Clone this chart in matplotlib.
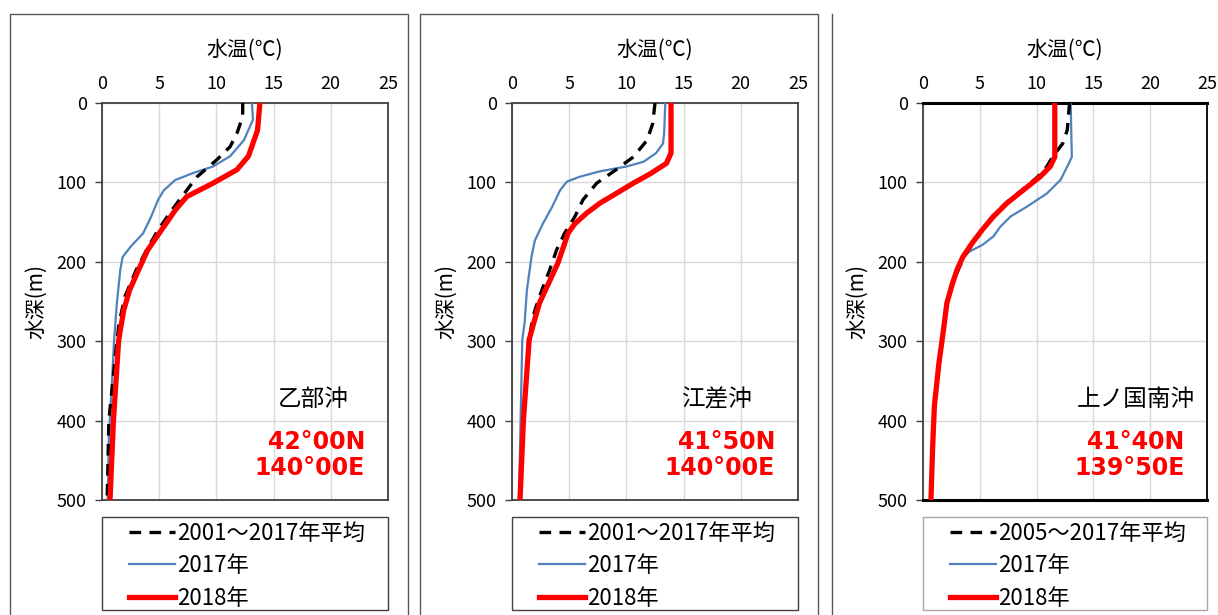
import matplotlib
matplotlib.use('Agg')
import matplotlib.pyplot as plt
from matplotlib.patches import Rectangle
from matplotlib.lines import Line2D

plt.rcParams['font.family'] = ['Noto Sans CJK JP', 'DejaVu Sans']

# 乙部沖
otobe_avg_depth = [0, 17, 38, 55, 72, 93, 110, 135, 160, 185, 210, 244, 277, 300, 400, 500]
otobe_avg_temp = [12.3, 12.3, 11.8, 11.2, 10.0, 8.3, 7.4, 6.1, 4.9, 3.9, 3.0, 2.0, 1.5, 1.3, 0.6, 0.45]
otobe_2017_depth = [0, 21, 47, 67, 80, 88, 97, 110, 122, 143, 164, 181, 194, 210, 252, 300, 357, 420, 500]
otobe_2017_temp = [13.1, 13.2, 12.4, 11.2, 9.7, 8.0, 6.4, 5.4, 4.9, 4.3, 3.6, 2.5, 1.8, 1.6, 1.3, 1.05, 0.85, 0.6, 0.5]
otobe_2018_depth = [0, 34, 67, 84, 101, 118, 135, 160, 185, 210, 236, 261, 286, 300, 400, 500]
otobe_2018_temp = [13.8, 13.6, 12.8, 11.8, 9.7, 7.4, 6.4, 5.2, 4.0, 3.2, 2.4, 1.9, 1.6, 1.45, 1.0, 0.7]

# 江差沖
esashi_avg_depth = [0, 26, 47, 68, 84, 101, 122, 143, 164, 185, 210, 236, 261, 280, 300, 400, 500]
esashi_avg_temp = [12.5, 12.3, 11.8, 10.6, 9.1, 7.4, 6.2, 5.5, 4.6, 3.9, 3.3, 2.6, 2.0, 1.7, 1.5, 1.0, 0.7]
esashi_2017_depth = [0, 38, 51, 63, 74, 80, 86, 93, 99, 110, 131, 152, 173, 194, 236, 277, 298, 400, 500]
esashi_2017_temp = [13.4, 13.3, 13.2, 12.6, 11.5, 10.0, 7.7, 5.9, 4.8, 4.2, 3.5, 2.7, 2.0, 1.7, 1.3, 1.1, 0.9, 0.75, 0.6]
esashi_2018_depth = [0, 63, 76, 89, 101, 114, 126, 139, 152, 164, 181, 202, 227, 252, 277, 298, 399, 500]
esashi_2018_temp = [13.9, 13.9, 13.5, 12.1, 10.6, 9.1, 7.7, 6.5, 5.5, 4.9, 4.5, 4.0, 3.2, 2.4, 1.9, 1.5, 1.0, 0.7]

# 上ノ国南沖
kaminokuni_avg_depth = [0, 34, 51, 68, 80, 93, 110, 126, 143, 160, 177, 194, 210, 227, 252, 286, 328, 382, 433, 500]
kaminokuni_avg_temp = [12.9, 12.7, 12.3, 11.4, 10.9, 10.1, 8.7, 7.3, 6.1, 5.2, 4.4, 3.6, 3.1, 2.6, 2.1, 1.8, 1.4, 1.0, 0.85, 0.7]
kaminokuni_2017_depth = [0, 68, 80, 97, 114, 131, 143, 156, 168, 179, 187, 194, 210, 227, 252, 286, 328, 382, 433, 500]
kaminokuni_2017_temp = [13.0, 13.1, 12.7, 12.1, 10.9, 9.1, 7.7, 6.8, 6.2, 5.2, 4.1, 3.5, 3.0, 2.6, 2.1, 1.8, 1.35, 0.95, 0.8, 0.65]
kaminokuni_2018_depth = [0, 68, 80, 93, 110, 126, 143, 160, 177, 194, 210, 227, 252, 286, 328, 382, 433, 500]
kaminokuni_2018_temp = [11.6, 11.6, 11.2, 10.3, 8.8, 7.4, 6.2, 5.2, 4.3, 3.5, 3.0, 2.6, 2.1, 1.8, 1.4, 1.0, 0.85, 0.7]

stations = ['乙部沖', '江差沖', '上ノ国南沖']
lat_labels = ['42°00N', '41°50N', '41°40N']
lon_labels = ['140°00E', '140°00E', '139°50E']
avg_labels = ['2001～2017年平均', '2001～2017年平均', '2005～2017年平均']
x_ticks = [0, 5, 10, 15, 20, 25]
y_ticks = [0, 100, 200, 300, 400, 500]

profiles = [
    (otobe_avg_depth, otobe_avg_temp, otobe_2017_depth, otobe_2017_temp, otobe_2018_depth, otobe_2018_temp),
    (esashi_avg_depth, esashi_avg_temp, esashi_2017_depth, esashi_2017_temp, esashi_2018_depth, esashi_2018_temp),
    (kaminokuni_avg_depth, kaminokuni_avg_temp, kaminokuni_2017_depth, kaminokuni_2017_temp,
     kaminokuni_2018_depth, kaminokuni_2018_temp),
]

W, H = 1218, 615
fig = plt.figure(figsize=(W / 100, H / 100), dpi=100)

ax_left = [102, 512, 923]
ax_width = [286, 286, 284]
ax_top, ax_bottom = 103, 500
name_x = [18.5, 17.9, 18.7]

for i in range(3):
    ax = fig.add_axes([ax_left[i] / W, 1 - ax_bottom / H, ax_width[i] / W, (ax_bottom - ax_top) / H])
    ad, at, d17, t17, d18, t18 = profiles[i]
    ax.plot(t17, d17, color='#4f81bd', lw=1.6, zorder=3, solid_joinstyle='round')
    ax.plot(at, ad, color='black', lw=2.4, dashes=(3.5, 2.5), zorder=4)
    ax.plot(t18, d18, color='#ff0000', lw=3.8, zorder=5, solid_joinstyle='round', solid_capstyle='butt')

    ax.set_xlim(0, 25)
    ax.set_ylim(500, 0)
    ax.set_xticks(x_ticks)
    ax.set_yticks(y_ticks)
    ax.xaxis.tick_top()
    ax.xaxis.set_label_position('top')
    ax.tick_params(axis='x', length=0, pad=7, labelsize=13)
    ax.tick_params(axis='y', length=5, width=1, color='#404040', pad=6, labelsize=13)
    ax.grid(True, color='#d9d9d9', lw=1)
    ax.set_axisbelow(True)
    ax.set_xlabel('水温(℃)', fontsize=15, labelpad=14)
    ax.set_ylabel('水深(m)', fontsize=15, labelpad=7)
    for s in ax.spines.values():
        s.set_color('#404040')
        s.set_linewidth(1.3)
    if i == 2:
        ax.spines['top'].set_color('black')
        ax.spines['top'].set_linewidth(2.2)
        ax.spines['bottom'].set_color('black')
        ax.spines['bottom'].set_linewidth(2.2)
        ax.spines['right'].set_color('black')

    ax.text(name_x[i], 374, stations[i], fontsize=17, ha='center', va='center', zorder=6)
    ax.text(23.0, 427, lat_labels[i], fontsize=17, color='#ff0000', fontweight='bold',
            ha='right', va='center', family=['DejaVu Sans'], zorder=6)
    ax.text(23.0, 460, lon_labels[i], fontsize=17, color='#ff0000', fontweight='bold',
            ha='right', va='center', family=['DejaVu Sans'], zorder=6)

    handles = [
        Line2D([], [], color='black', lw=2.4, dashes=(3.5, 2.5)),
        Line2D([], [], color='#4f81bd', lw=1.6),
        Line2D([], [], color='#ff0000', lw=3.8),
    ]
    ax.legend(handles, [avg_labels[i], '2017年', '2018年'], loc='upper left',
              bbox_to_anchor=(27 / ax_width[i], -0.055), frameon=False, borderaxespad=0,
              borderpad=0, fontsize=16, handlelength=2.07, handletextpad=0.1, labelspacing=0.42)

    # legend box
    edge = '#404040' if i < 2 else '#a6a6a6'
    fig.add_artist(Rectangle((ax_left[i] / W, (H - 610) / H), ax_width[i] / W, (610 - 517) / H,
                             transform=fig.transFigure, fill=False, edgecolor=edge, lw=1))

# panel frames
for x0, x1 in [(10, 408), (420, 818)]:
    fig.add_artist(Rectangle((x0 / W, -0.05), (x1 - x0) / W, (H - 14) / H + 0.05,
                             transform=fig.transFigure, fill=False, edgecolor='#595959', lw=1))
fig.add_artist(Line2D([832 / W, 832 / W], [-0.05, 1 - 14 / H], transform=fig.transFigure,
                      color='#595959', lw=1))

fig.savefig('out.png', dpi=100)
